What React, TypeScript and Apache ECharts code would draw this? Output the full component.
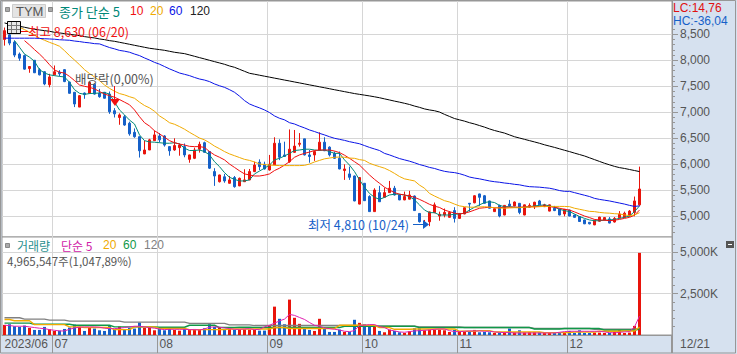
import React, { useEffect, useRef } from "react";
import * as echarts from "echarts";

const slotCount = 134;
const monthStarts = [0, 10, 31, 53, 72, 91, 113];
const monthLabels = ["2023/06", "07", "08", "09", "10", "11", "12"];
const priceTicks = [5000, 5500, 6000, 6500, 7000, 7500, 8000, 8500];
const volumeTicks = [2500, 5000];

const opens = [8400,8490,8350,8120,8090,7840,8000,7820,7780,7530,
7720,7770,7820,7580,7385,7100,7370,7365,7540,7370,
7385,7350,7030,6900,6915,6790,6615,6530,6200,6275,
6455,6545,6545,6340,6275,6320,6340,6095,6115,6290,
6415,6245,5860,5665,5760,5635,5745,5585,5665,5700,
5860,6040,6000,5890,5990,6405,6180,6050,6230,6385,
6490,6180,6180,6275,6425,6330,6210,6115,5880,5815,
5775,5235,5635,5380,5090,5455,5365,5455,5540,5410,
5315,5330,5390,5055,4840,4895,5070,5005,5025,4980,
5110,4960,5045,5250,5260,5430,5395,5295,5090,5210,
5025,5235,5200,5250,5025,5175,5185,5295,5185,5100,
5155,5140,5045,5120,5025,4995,4930,4885,4835,4905,
4930,4950,4890,4970,4980,5005,5075,5220];
const closes = [8570,8330,8100,8040,7830,7880,7760,7720,7545,7680,
7780,7740,7590,7365,7160,7320,7340,7575,7350,7300,
7270,7010,6970,6950,6755,6585,6530,6260,6275,6470,
6565,6470,6370,6260,6360,6370,6180,6180,6275,6385,
6230,5925,5775,5795,5680,5700,5570,5730,5700,5860,
5985,5955,5910,6000,6405,6135,6150,6290,6350,6405,
6180,6150,6245,6425,6260,6180,6115,5910,5910,5750,
5295,5745,5300,5090,5505,5280,5455,5540,5410,5315,
5380,5410,5110,4895,4880,5085,5220,5040,5075,5075,
4960,5055,5165,5235,5395,5365,5250,5155,5145,5005,
5210,5200,5275,5075,5220,5210,5270,5220,5220,5220,
5110,5025,5135,5005,4980,4900,4855,4855,4925,4985,
4975,4870,4960,5045,5060,5100,5295,5525];
const lows = [8282,8290,8060,7990,7820,7760,7755,7710,7520,7480,
7710,7690,7580,7360,7100,7100,7260,7360,7340,7280,
7265,6970,6900,6760,6740,6550,6510,6130,6195,6275,
6450,6420,6340,6165,6260,6165,6135,6030,6100,6225,
6225,5910,5585,5650,5645,5630,5550,5580,5660,5695,
5850,5890,5900,5880,5985,6080,6145,6030,6220,6340,
6170,6030,6065,6270,6255,6150,6105,5905,5700,5700,
5290,5230,5295,5090,5090,5275,5360,5450,5400,5310,
5310,5325,5110,4880,4830,4810,5060,4915,4980,4975,
4880,4955,5040,5090,5250,5200,5245,5150,5085,4980,
5020,5175,5195,5040,5020,5170,5140,5215,5180,5095,
5100,5020,5000,5000,4975,4895,4850,4845,4830,4900,
4925,4865,4880,4960,4975,5000,5000,5200];
const highs = [8630,8510,8380,8150,8110,7885,8005,7850,7790,7740,
7900,7810,7830,7590,7390,7330,7380,7590,7550,7450,
7390,7400,7080,6980,6950,6820,6690,6535,6455,6490,
6650,6600,6560,6345,6500,6400,6400,6185,6320,6435,
6435,6250,5925,5800,5815,5775,5775,5745,5905,5910,
6050,6095,6050,6180,6520,6480,6435,6670,6660,6600,
6490,6275,6260,6615,6520,6345,6245,6245,6000,5955,
5785,5750,5640,5405,5540,5585,5550,5680,5585,5420,
5475,5490,5400,5060,4930,5090,5265,5090,5150,5100,
5175,5060,5170,5255,5405,5435,5410,5300,5150,5225,
5215,5315,5285,5255,5225,5250,5280,5315,5240,5225,
5200,5145,5140,5125,5030,5000,4935,4890,4930,4990,
4985,4985,4985,5100,5090,5120,5380,5955];

const ma5 = [null,null,8380,8250,8120,8060,7980,7820,7755,7720,
7705,7690,7680,7575,7435,7365,7345,7360,7365,7370,
7380,7350,7200,7045,6950,6850,6775,6565,6455,6430,
6425,6415,6405,6405,6415,6390,6310,6265,6265,6275,
6245,6180,6050,5955,5840,5750,5710,5680,5680,5700,
5815,5870,5925,5985,6085,6115,6160,6210,6265,6275,
6290,6290,6275,6265,6275,6245,6210,6210,6085,5985,
5860,5700,5560,5440,5365,5325,5365,5410,5425,5425,
5410,5380,5315,5220,5120,5070,5070,5025,5025,5025,
5040,5045,5060,5120,5175,5220,5265,5280,5265,5210,
5185,5185,5175,5165,5175,5185,5200,5210,5220,5200,
5175,5135,5110,5090,5045,4995,4960,4930,4915,4915,
4925,4930,4940,4960,4980,5005,5090,5200];
const ma10 = [null,null,null,null,8378,8295,8205,8120,8025,7915,
7815,7770,7755,7690,7610,7525,7500,7480,7450,7400,
7350,7320,7290,7245,7195,7145,7045,6915,6800,6735,
6645,6585,6520,6455,6415,6390,6370,6345,6340,6340,
6325,6245,6180,6135,6085,6005,5940,5875,5815,5795,
5775,5775,5790,5815,5880,5925,5985,6050,6135,6180,
6210,6235,6265,6275,6275,6275,6255,6225,6175,6115,
6050,5985,5890,5795,5710,5635,5560,5505,5455,5425,
5410,5390,5365,5325,5280,5230,5195,5170,5120,5090,
5060,5045,5060,5085,5120,5155,5165,5175,5165,5165,
5175,5175,5175,5175,5180,5185,5185,5190,5200,5185,
5175,5155,5135,5120,5085,5045,5005,4975,4940,4930,
4925,4915,4925,4940,4960,4980,5020,5120];
const ma20 = [null,8700,8665,8635,8590,8540,8485,8425,8385,8345,
8310,8270,8185,8090,8005,7915,7820,7745,7680,7610,
7525,7460,7405,7360,7335,7300,7270,7195,7130,7085,
7020,6930,6870,6800,6770,6725,6675,6615,6560,6505,
6470,6415,6350,6300,6245,6200,6165,6130,6095,6075,
6045,6005,5995,5985,5980,5975,5975,5975,5975,5975,
5980,6005,6045,6075,6105,6120,6135,6140,6135,6120,
6115,6090,6075,6020,5985,5955,5925,5880,5825,5765,
5720,5700,5680,5600,5540,5440,5390,5345,5300,5275,
5235,5200,5185,5175,5175,5180,5185,5175,5165,5160,
5155,5160,5165,5165,5175,5180,5180,5185,5190,5190,
5190,5190,5190,5185,5155,5135,5115,5095,5090,5075,
5065,5060,5050,5045,5025,5015,5025,5070];
const ma60 = [8425,8425,8425,8425,8425,8425,8425,8420,8415,8410,
8405,8395,8390,8385,8370,8360,8345,8335,8320,8315,
8280,8245,8220,8190,8175,8155,8120,8090,8045,8005,
7960,7925,7880,7835,7795,7755,7730,7705,7670,7640,
7620,7590,7545,7510,7480,7435,7385,7310,7225,7160,
7120,7085,7045,6995,6930,6885,6855,6800,6775,6735,
6700,6660,6630,6595,6565,6530,6500,6480,6460,6435,
6415,6395,6360,6325,6295,6265,6210,6180,6145,6110,
6085,6060,6030,5995,5970,5940,5920,5890,5865,5850,
5840,5820,5790,5755,5735,5720,5700,5680,5665,5655,
5640,5630,5615,5605,5585,5570,5565,5560,5550,5540,
5520,5495,5480,5480,5455,5430,5405,5380,5345,5325,
5310,5295,5275,5255,5235,5210,5190,5200];
const ma120 = [8718,8692,8673,8654,8635,8615,8596,8583,8570,8558,
8538,8526,8513,8500,8487,8474,8455,8442,8430,8410,
8397,8378,8365,8346,8327,8308,8288,8269,8250,8231,
8218,8205,8192,8173,8154,8141,8128,8103,8077,8051,
8026,8000,7974,7949,7923,7891,7865,7827,7788,7750,
7732,7713,7694,7676,7657,7639,7620,7602,7583,7565,
7546,7527,7509,7490,7472,7453,7434,7416,7397,7379,
7360,7345,7330,7315,7298,7280,7258,7237,7215,7195,
7173,7150,7120,7095,7065,7045,7030,7005,6960,6920,
6880,6855,6830,6800,6775,6745,6715,6680,6650,6625,
6600,6565,6530,6505,6480,6455,6430,6404,6375,6350,
6325,6298,6270,6244,6215,6188,6160,6125,6090,6055,
6020,5990,5960,5936,5920,5900,5880,5860];

const volumes = [610,650,530,490,570,430,305,305,490,345,
245,265,365,450,630,490,245,450,390,285,
245,570,365,510,345,430,390,755,430,430,
285,365,285,365,305,265,390,345,365,325,
410,650,490,450,305,365,305,325,345,325,
305,265,265,550,1715,980,650,2140,1040,675,
430,305,245,980,365,185,185,325,185,185,
920,735,650,570,530,245,165,325,245,165,
120,225,410,410,285,325,325,325,285,185,
305,205,185,185,305,165,185,165,120,145,
165,390,165,285,165,185,185,165,145,145,
120,120,120,245,120,285,120,120,145,145,
120,120,245,305,120,145,550,4966];
const volMa5 = [590,570,530,530,530,490,450,410,385,325,
285,245,245,345,430,470,490,490,490,470,
410,385,385,410,450,490,530,530,490,450,
410,365,325,345,345,345,345,325,325,305,
365,470,490,470,430,390,345,345,365,385,
326,345,490,590,715,855,960,1245,1185,1060,
940,755,590,530,430,385,345,305,225,205,
265,590,590,630,630,510,450,305,245,185,
165,205,245,265,285,305,345,365,365,265,
205,205,225,245,245,245,225,225,185,165,
145,145,120,120,120,120,120,120,120,120,
120,165,205,225,225,225,225,225,225,225,
185,145,125,165,185,205,490,1140];
const volMa20 = [940,940,860,860,860,860,630,630,630,630,
630,630,630,490,490,490,450,450,450,450,
450,450,325,325,325,325,490,490,490,490,
490,390,390,390,390,390,390,325,325,325,
325,325,325,325,325,365,365,365,365,365,
365,365,365,365,450,450,450,390,390,390,
390,390,390,390,390,390,390,590,590,590,
590,590,590,590,590,450,450,450,345,345,
345,345,365,365,365,365,365,365,365,365,
365,225,225,225,225,265,265,265,185,185,
185,185,185,185,185,185,185,185,145,145,
145,145,145,145,185,185,185,185,185,225,
225,225,225,225,245,245,245,485];
const volMa60 = [715,715,715,715,715,715,650,650,650,650,
650,650,650,650,590,590,590,590,590,590,
590,590,490,490,490,490,490,490,490,490,
490,470,470,470,470,470,470,590,590,590,
590,590,590,450,450,450,450,470,470,470,
450,450,450,450,450,450,450,450,450,450,
450,450,450,450,450,450,450,450,530,530,
530,530,530,530,530,530,530,530,530,530,
530,530,530,450,450,450,450,450,450,450,
450,450,450,450,450,450,450,450,450,450,
450,450,450,450,450,450,365,365,365,365,
365,365,390,390,390,390,390,390,390,390,
305,305,305,305,305,305,285,365];
const volMa120 = [1040,1040,1040,1040,960,960,960,960,960,900,
900,900,900,840,840,840,840,840,840,840,
840,840,840,840,780,780,780,780,780,780,
780,780,780,780,780,780,780,700,700,700,
700,700,700,700,700,610,610,610,610,610,
570,570,570,570,570,570,570,570,570,570,
570,570,570,570,570,570,570,570,570,570,
570,570,570,530,530,530,530,530,530,530,
530,530,530,490,490,490,490,490,490,490,
490,490,450,450,450,450,450,450,450,450,
450,450,450,450,450,450,390,390,390,390,
390,390,390,390,390,390,390,390,345,345,
345,345,345,345,345,345,345,390];

const fontKr = '"Noto Sans CJK KR"';
const fontNum = '"Liberation Sans"';
const UP = "#e8140c";
const DOWN = "#1560c8";
const BAND = "#d6e1ef";
const FRAME = "#979797";
const GRID = "#d6d6d6";
const INK = "#555555";

const categories = Array.from({ length: slotCount }, (_, i) => {
  const at = monthStarts.indexOf(i);
  return at >= 0 ? monthLabels[at] : "";
});
const isMonth = (i: number) => monthStarts.includes(i);

function txt(text: string, x: number, y: number, fill: string, size = 12, family = fontKr) {
  return {
    type: "text",
    z: 100,
    silent: true,
    style: { text, x, y, fill, fontSize: size, fontFamily: family, verticalAlign: "middle", lineHeight: size },
  };
}
function seg(x1: number, y1: number, x2: number, y2: number, stroke: string, lineWidth = 1) {
  return { type: "line", z: 100, silent: true, shape: { x1, y1, x2, y2 }, style: { stroke, lineWidth } };
}
function box(x: number, y: number, width: number, height: number, fill: string, stroke = "none") {
  return { type: "rect", z: 99, silent: true, shape: { x, y, width, height }, style: { fill, stroke, lineWidth: 1 } };
}

function line(name: string, data: any[], color: string, xAxisIndex: number, yAxisIndex: number, width = 1) {
  return {
    name,
    type: "line",
    data,
    xAxisIndex,
    yAxisIndex,
    symbol: "none",
    showSymbol: false,
    connectNulls: false,
    lineStyle: { color, width },
    silent: true,
    z: 4,
  };
}

function makeYAxis(gridIndex: number, min: number, max: number, major: number[], minor: number[], fmt: (v: number) => string) {
  return [
    {
      type: "value",
      gridIndex,
      position: "right",
      min,
      max,
      axisLine: { show: true, lineStyle: { color: FRAME } },
      axisTick: { show: true, length: 6, customValues: major, lineStyle: { color: FRAME } },
      axisLabel: { show: true, margin: 8, customValues: major, formatter: fmt, color: INK, fontSize: 12, fontFamily: fontNum },
      splitLine: { show: true, lineStyle: { color: GRID, width: 1 } },
    },
    {
      type: "value",
      gridIndex,
      position: "right",
      min,
      max,
      axisLine: { show: false },
      axisTick: { show: true, length: 3, customValues: minor, lineStyle: { color: FRAME } },
      axisLabel: { show: false },
      splitLine: { show: false },
    },
  ];
}

const priceMinor: number[] = [];
for (let v = 4700; v <= 8600; v += 100) priceMinor.push(v);
const volumeMinor: number[] = [];
for (let v = 500; v <= 5500; v += 500) volumeMinor.push(v);

export default function App() {
  const ref = useRef<HTMLDivElement>(null);
  useEffect(() => {
    const chart = echarts.init(ref.current!, undefined, { renderer: "svg" });
    const commas = (v: number) => v.toLocaleString("en-US");
    chart.setOption({
      animation: false,
      backgroundColor: BAND,
      grid: [
        { left: 2, top: 1, width: 670, height: 236, show: true, backgroundColor: "#fff", borderColor: FRAME, borderWidth: 1 },
        { left: 2, top: 237, width: 670, height: 98, show: true, backgroundColor: "#fff", borderColor: FRAME, borderWidth: 1 },
      ],
      xAxis: [
        {
          type: "category",
          gridIndex: 0,
          data: categories,
          axisLine: { show: false },
          axisTick: { show: false },
          axisLabel: { show: false },
          splitLine: { show: true, interval: (i: number) => isMonth(i) && i > 0, lineStyle: { color: GRID, width: 1 } },
        },
        {
          type: "category",
          gridIndex: 1,
          data: categories,
          axisLine: { show: true, lineStyle: { color: FRAME } },
          axisTick: { show: true, length: 18, interval: (i: number) => isMonth(i) && i > 0, lineStyle: { color: FRAME } },
          axisLabel: {
            show: true,
            interval: (i: number) => isMonth(i),
            align: "left",
            margin: 3,
            color: INK,
            fontSize: 12,
            fontFamily: fontNum,
          },
          splitLine: { show: true, interval: (i: number) => isMonth(i) && i > 0, lineStyle: { color: GRID, width: 1 } },
        },
      ],
      yAxis: [
        ...makeYAxis(0, 4602, 9140, priceTicks, priceMinor, commas),
        ...makeYAxis(1, 0, 5925, volumeTicks, volumeMinor, (v) => commas(v) + "K"),
      ],
      series: [
        {
          name: "price",
          type: "candlestick",
          xAxisIndex: 0,
          yAxisIndex: 0,
          barWidth: 3,
          data: opens.map((o, i) => [o, closes[i], lows[i], highs[i]]),
          itemStyle: { color: UP, color0: DOWN, borderColor: UP, borderColor0: DOWN, borderWidth: 1 },
          silent: true,
          z: 3,
        },
        line("5", ma5, "#008878", 0, 0),
        line("10", ma10, "#f01010", 0, 0),
        line("20", ma20, "#f0aa00", 0, 0),
        line("60", ma60, "#0a14e6", 0, 0),
        line("120", ma120, "#000000", 0, 0),
        {
          name: "volume",
          type: "bar",
          xAxisIndex: 1,
          yAxisIndex: 2,
          barWidth: 3,
          silent: true,
          data: volumes.map((v, i) => ({
            value: v,
            itemStyle: { color: closes[i] >= opens[i] ? UP : DOWN },
          })),
          z: 3,
        },
        line("v120", volMa120, "#808080", 1, 2, 1.4),
        line("v60", volMa60, "#109848", 1, 2, 1.4),
        line("v20", volMa20, "#f0aa00", 1, 2, 1.4),
        line("v5", volMa5, "#e020b0", 1, 2, 1),
      ],
      graphic: {
        elements: [
          box(5.5, 7.5, 4, 4, "#aaaaaa", "#888888"),
          box(12.5, 4.5, 33, 13, "#e4e4e4", "#cccccc"),
          txt("TYM", 16, 11, INK, 13, fontNum),
          box(48.5, 7.5, 4, 4, "#aaaaaa", "#888888"),
          txt("종가 단순 5", 59, 11, "#008878", 13),
          txt("10", 130, 11, "#f01010", 12, fontNum),
          txt("20", 150, 11, "#f0aa00", 12, fontNum),
          txt("60", 169, 11, "#0a14e6", 12, fontNum),
          txt("120", 190, 11, "#222222", 12, fontNum),

          box(7.5, 21.5, 13, 12, "#e8e8e8", "#000000"),
          seg(8, 25.5, 20, 25.5, "#777777"),
          seg(8, 29.5, 20, 29.5, "#777777"),
          seg(11.5, 22, 11.5, 33, "#777777"),
          seg(16.5, 22, 16.5, 33, "#777777"),
          seg(21, 31.5, 28, 31.5, "#f01010"),
          txt("최고 8,630 (06/20)", 28, 31, "#f01010", 12.5),

          txt("배당락(0,00%)", 75, 78, INK, 12.5),
          seg(114.5, 86, 114.5, 101, "#f01010"),
          { type: "polygon", z: 100, silent: true, shape: { points: [[110, 99], [120, 99], [115, 106]] }, style: { fill: "#f01010" } },

          txt("최저 4,810 (10/24)", 308, 224, "#1560c8", 12.5),
          seg(413, 224.5, 424, 224.5, "#1560c8"),
          { type: "polygon", z: 100, silent: true, shape: { points: [[423, 220], [429, 224.5], [423, 229]] }, style: { fill: "#1560c8" } },

          txt("LC:14,76", 673, 8, "#e01010", 12, fontNum),
          txt("HC:-36,04", 673, 21, "#1560c8", 12, fontNum),

          box(5.5, 243.5, 4, 4, "#aaaaaa", "#888888"),
          txt("거래량", 17, 245, "#2a9090", 12),
          txt("단순 5", 61, 245, "#d020a8", 12),
          txt("20", 103, 245, "#f0aa00", 12, fontNum),
          txt("60", 123, 245, "#109848", 12, fontNum),
          txt("120", 144, 245, "#808080", 12, fontNum),
          txt("4,965,547주(1,047,89%)", 7, 260.5, INK, 11.5),

          box(726, 241, 8, 7, "#555555"),
          seg(728, 244.5, 732, 244.5, "#ffffff"),

          txt("12/21", 680, 344, INK, 12, fontNum),
          seg(671.5, 335, 671.5, 353, FRAME),
          { type: "rect", z: 101, silent: true, shape: { x: 0.5, y: 0.5, width: 735, height: 352.5 }, style: { fill: "none", stroke: FRAME, lineWidth: 1 } },
        ],
      },
    });
    return () => chart.dispose();
  }, []);
  return <div ref={ref} style={{ position: "absolute", left: 0, top: 0, width: 737, height: 354 }} />;
}
